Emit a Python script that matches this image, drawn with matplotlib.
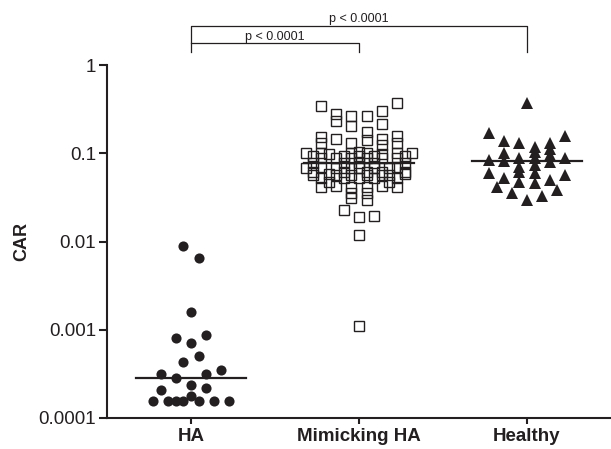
import numpy as np
import matplotlib
matplotlib.use("Agg")
import matplotlib.pyplot as plt

plt.rcParams['font.family'] = ['Liberation Sans', 'DejaVu Sans']

categories = ["HA", "Mimicking HA", "Healthy"]

ha_values = [0.00897, 0.00656, 0.00158, 0.000802, 0.000715, 0.000867, 0.000508,
             0.000435, 0.00035, 0.000317, 0.000282, 0.000317, 0.000237, 0.000208,
             0.000221, 0.000156, 0.000156, 0.000156, 0.000156, 0.000178, 0.000156,
             0.000156, 0.000156]
ha_cols = [-1, 1, 0, -2, 0, 2, 1, -1, 4, -4, -2, 2, 0, -4, 2, -5, -3, -2, -1, 0, 1, 3, 5]

mim_values = [0.344, 0.370, 0.280, 0.229, 0.261, 0.205, 0.261, 0.305, 0.215,
              0.173, 0.142, 0.151, 0.130, 0.145, 0.130, 0.145, 0.124, 0.155, 0.130,
              0.100, 0.101, 0.099, 0.100, 0.102, 0.100, 0.099, 0.101, 0.100,
              0.093, 0.094, 0.092, 0.093, 0.094,
              0.0887, 0.0880, 0.0890, 0.0885, 0.0880, 0.0890,
              0.0773, 0.0773, 0.0773, 0.0773, 0.0773,
              0.0682, 0.0690, 0.0675, 0.0682, 0.0685, 0.0678, 0.0682, 0.0690,
              0.0615, 0.0620, 0.0610, 0.0615, 0.0620,
              0.0569, 0.0575, 0.0565, 0.0569, 0.0572, 0.0566, 0.0569, 0.0575,
              0.0526, 0.0530, 0.0522, 0.0526, 0.0530,
              0.0474, 0.0474,
              0.0419, 0.0425, 0.0415, 0.0419, 0.0425, 0.0419,
              0.0356, 0.0356,
              0.0315, 0.0297,
              0.0228, 0.0191, 0.0194, 0.0117, 0.0011]
mim_cols = [-5, 5, -3, -3, -1, -1, 1, 3, 3,
            1, 1, -5, -5, -3, -1, 3, 3, 5, 5,
            -7, -5, -4, -1, 0, 1, 3, 5, 7,
            -6, -2, 0, 2, 6,
            -5, -3, -1, 1, 3, 5,
            -6, -2, 0, 2, 6,
            -7, -5, -3, -1, 0, 2, 4, 5,
            -6, -2, 1, 3, 6,
            -6, -4, -3, -1, 1, 3, 4, 6,
            -5, -2, 0, 2, 5,
            -4, 4,
            -5, -3, -1, 1, 3, 5,
            -1, 1,
            -1, 1,
            -2, 0, 2, 0, 0]

healthy_values = [0.370, 0.169, 0.157, 0.136, 0.130, 0.119, 0.132, 0.1045, 0.111,
                  0.100, 0.0959, 0.0842, 0.0815, 0.088, 0.088, 0.088, 0.0805, 0.0707,
                  0.0737, 0.0621, 0.0595, 0.0594, 0.0569, 0.0522, 0.0478, 0.0458,
                  0.0499, 0.0413, 0.0385, 0.0358, 0.0329, 0.0297]
healthy_cols = [0, -5, 5, -3, -1, 1, 3, 1, 3,
                -3, 3, -5, -3, -1, 1, 5, 3, -1,
                1, -1, 1, -5, 5, -3, -1, 1,
                3, -4, 4, -2, 2, 0]

y_ticks = [0.0001, 0.001, 0.01, 0.1, 1]
y_tick_labels = ["0.0001", "0.001", "0.01", "0.1", "1"]
p_label = "p < 0.0001"

INK = '#231f20'
STEP = 0.0452

fig = plt.figure(figsize=(6.11, 4.49), dpi=100)
ax = fig.add_axes([107/611, 1 - 418/449, 504/611, (418 - 65)/449])

groups = [
    (ha_values, ha_cols, dict(marker='o', ms=7.3, mfc=INK, mec=INK, mew=0)),
    (mim_values, mim_cols, dict(marker='s', ms=6.6, mfc='none', mec=INK, mew=1.0)),
    (healthy_values, healthy_cols, dict(marker='^', ms=8.2, mfc=INK, mec=INK, mew=0)),
]
for i, (vals, cols, style) in enumerate(groups):
    xs = i + np.array(cols) * STEP
    ax.plot(xs, vals, linestyle='none', clip_on=False, zorder=3, **style)
    med = np.median(vals)
    ax.plot([i - 0.33, i + 0.33], [med, med], color=INK, lw=1.6, zorder=4)

ax.set_yscale('log')
ax.set_ylim(1e-4, 1)
ax.set_xlim(-0.5, 2.5)
ax.set_yticks(y_ticks)
ax.set_yticklabels(y_tick_labels)
ax.yaxis.set_minor_locator(matplotlib.ticker.NullLocator())
ax.set_xticks(range(len(categories)))
ax.set_xticklabels(categories, fontweight='bold')

ax.spines['top'].set_visible(False)
ax.spines['right'].set_visible(False)
for s in ['left', 'bottom']:
    ax.spines[s].set_linewidth(1.5)
    ax.spines[s].set_color(INK)
ax.tick_params(axis='y', length=6, width=1.5, color=INK, labelsize=13.5, pad=2, labelcolor=INK)
ax.tick_params(axis='x', length=4, width=1.5, color=INK, labelsize=13.5, pad=3, labelcolor=INK)
ax.set_ylabel("CAR", fontweight='bold', fontsize=13, color=INK, labelpad=6)

# significance brackets
yb_top, yb_low, yb_end = 2.77, 1.776, 1.404
ax.plot([0, 0, 2, 2], [yb_end, yb_top, yb_top, yb_end], color=INK, lw=0.9, clip_on=False)
ax.plot([0, 1, 1], [yb_low, yb_low, yb_end], color=INK, lw=0.9, clip_on=False)
ax.text(1.0, 3.05, p_label, ha='center', va='baseline', fontsize=9, color=INK)
ax.text(0.5, 1.9, p_label, ha='center', va='baseline', fontsize=9, color=INK)

fig.savefig("out.png", dpi=100)
